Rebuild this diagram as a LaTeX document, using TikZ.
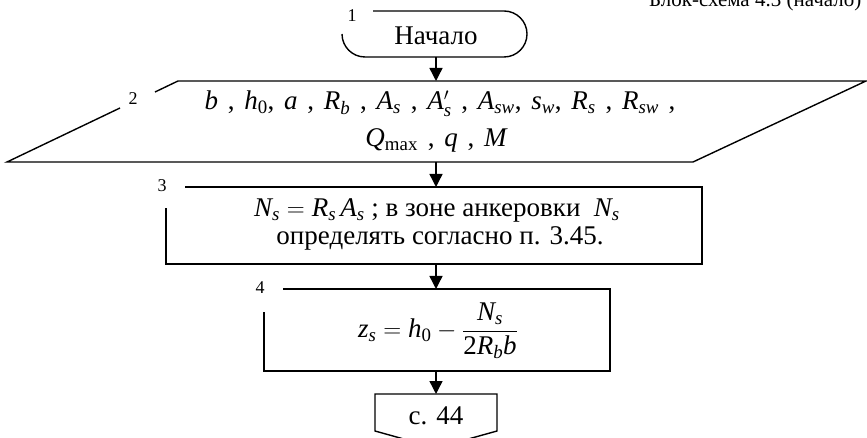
\documentclass[tikz,border=0pt]{standalone}
\usepackage{amsmath}
\usepackage{fontspec}
\setmainfont{Liberation Serif}
\usetikzlibrary{arrows.meta}
\newcommand\mv[1]{\mathit{#1}}
\newcommand\cm{\hspace{3pt}\ ,\ \hspace{3pt}}
\newcommand\cn{,\ \hspace{3pt}}
\begin{document}
\begin{tikzpicture}[x=1pt,y=1pt,line width=1.4pt,
  flow/.style={-{Triangle[length=13pt,width=13pt]},line width=1.4pt},
  txt/.style={font=\fontsize{27}{31}\selectfont,inner sep=0pt},
  lbl/.style={font=\fontsize{18}{20}\selectfont,inner sep=0pt},
  hdr/.style={font=\fontsize{21}{24}\selectfont,inner sep=0pt}]
\useasboundingbox (0,0) rectangle (867,-438);

% header (cut by the page top, as in the reference)
\node[hdr,anchor=base east] (hdr) at (862,-7) {Блок-схема 4.3 (начало)};

% 1: terminator
\draw (373,-11) -- (504,-11) arc[start angle=90,end angle=-90,radius=23]
      -- (365,-57) arc[start angle=270,end angle=180,radius=23];
\node[lbl] (n1) at (352,-16) {1};
\node[txt,anchor=base] (t1) at (436,-45) {Начало};
\coordinate (t1b) at (436,-57);

% 2: input parallelogram
\draw (155,-92) -- (178,-81) -- (866,-81) -- (693,-162) -- (7,-162) -- (120,-108);
\node[lbl] (n2) at (133,-99) {2};
\coordinate (p2t) at (436,-81);
\coordinate (p2b) at (436,-162);
\node[txt,anchor=base] (t2a) at (440,-110)
  {$\mv{b}$\cm$\mv{h}_{\mathrm{0}}$\cn$\mv{a}$\cm$\mv{R}_{\mv{b}}$\cm$\mv{A}_{\mv{s}}$\cm$\mv{A}'_{\mv{s}}$\cm$\mv{A}_{\mv{sw}}$\cn$\mv{s}_{\mv{w}}$\cn$\mv{R}_{\mv{s}}$\cm$\mv{R}_{\mv{sw}}$\hspace{3pt}\ ,};
\node[txt,anchor=base] (t2b) at (436,-147)
  {$\mv{Q}_{\mathrm{max}}$\cm$\mv{q}$\cm$\mv{M}$};

% 3: process
\draw (185,-187) -- (702,-187) -- (702,-264) -- (166,-264) -- (166,-208);
\node[lbl] (n3) at (162,-186) {3};
\coordinate (p3t) at (436,-187);
\coordinate (p3b) at (436,-264);
\node[txt,anchor=base] (t3a) at (437,-217)
  {$\mv{N}_{\mv{s}} = \mv{R}_{\mv{s}}\,\mv{A}_{\mv{s}}$ ; в зоне анкеровки \ $\mv{N}_{\mv{s}}$};
\node[txt,anchor=base] (t3b) at (440,-245) {определять согласно п. 3.45.};

% 4: process
\draw (283,-289) -- (610,-289) -- (610,-371) -- (264,-371) -- (264,-312);
\node[lbl] (n4) at (260,-288) {4};
\coordinate (p4t) at (436,-289);
\coordinate (p4b) at (436,-371);
\node[txt] (t4) at (438,-331)
  {$\mv{z}_{\mv{s}} = \mv{h}_{\mathrm{0}} - \dfrac{\mv{N}_{\mv{s}}}{\mathrm{2}\mv{R}_{\mv{b}}\mv{b}}$};

% off-page connector
\draw (375,-394) -- (497,-394) -- (497,-431) -- (436,-448) -- (375,-431) -- cycle;
\coordinate (c5t) at (436,-394);
\node[txt,anchor=base] (t5) at (436,-424) {с. 44};

% connectors
\draw[flow] (t1b) -- (p2t);
\draw[flow] (p2b) -- (p3t);
\draw[flow] (p3b) -- (p4t);
\draw[flow] (p4b) -- (c5t);
\end{tikzpicture}
\end{document}
